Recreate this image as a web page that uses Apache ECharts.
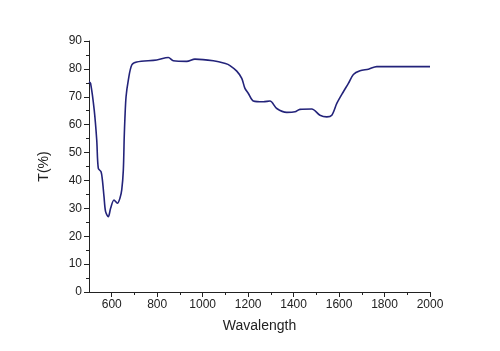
<!DOCTYPE html>
<html>
<head>
<meta charset="utf-8">
<script src="https://cdn.jsdelivr.net/npm/echarts@6/dist/echarts.min.js"></script>
<style>
  html, body { margin: 0; padding: 0; background: #fff; }
  #main { width: 500px; height: 351px; }
</style>
</head>
<body>
<div id="main"></div>
<script>
// wavelength (nm) and transmittance (%)
var wavelength = [500, 507, 523, 534, 541, 553, 559, 566, 573, 585, 595, 610, 625, 636, 644, 651, 655, 658, 663, 673, 688, 710, 798, 849, 871, 930, 966, 1047, 1100, 1120, 1150, 1172, 1186, 1201, 1223, 1267, 1296, 1326, 1370, 1406, 1428, 1480, 1516, 1546, 1568, 1590, 1619, 1641, 1663, 1692, 1729, 1766, 2000];
var transmittance = [75.4, 74.8, 65.2, 54.5, 44.3, 43.1, 40.1, 34.2, 28.8, 27.0, 30.0, 33.0, 31.8, 33.6, 36.6, 43.7, 55.7, 62.3, 70.0, 76.0, 81.4, 82.5, 83.2, 84.1, 82.9, 82.7, 83.5, 82.9, 81.9, 81.2, 79.2, 76.6, 73.0, 71.2, 68.5, 68.2, 68.5, 65.8, 64.4, 64.6, 65.5, 65.6, 63.4, 62.8, 63.4, 67.6, 71.8, 74.8, 78.0, 79.3, 79.9, 80.8, 80.8];

// tick positions on the wavelength axis
var xMajorTicks = [600, 800, 1000, 1200, 1400, 1600, 1800, 2000];
var xMinorTicks = [700, 900, 1100, 1300, 1500, 1700, 1900];

var points = wavelength.map(function (w, i) { return [w, transmittance[i]]; });

var myChart = echarts.init(document.getElementById('main'));
var font = 'Liberation Sans, Arial, sans-serif';
var ink = '#222';
var option = {
    animation: false,
    grid: { left: 89, right: 70, top: 41, bottom: 59 },
    xAxis: [
        {
            type: 'value',
            min: 500,
            max: 2000,
            interval: 100,
            name: 'Wavalength',
            nameLocation: 'middle',
            nameGap: 27,
            nameTextStyle: { color: ink, fontSize: 14, fontFamily: font },
            axisLine: { show: true, lineStyle: { color: ink, width: 1 } },
            axisTick: { show: true, length: 5, customValues: xMajorTicks, lineStyle: { color: ink } },
            axisLabel: {
                margin: 7, color: ink, fontSize: 12, fontFamily: font,
                customValues: xMajorTicks,
                formatter: function (v) { return String(v); }
            },
            splitLine: { show: false }
        },
        {
            type: 'value',
            position: 'bottom',
            min: 500,
            max: 2000,
            interval: 100,
            axisLine: { show: false },
            axisTick: { show: true, length: 3, customValues: xMinorTicks, lineStyle: { color: ink } },
            axisLabel: { show: false },
            splitLine: { show: false }
        }
    ],
    yAxis: {
        type: 'value',
        min: 0,
        max: 90,
        interval: 10,
        name: 'T(%)',
        nameLocation: 'middle',
        nameGap: 38,
        nameTextStyle: { color: ink, fontSize: 14, fontFamily: font },
        axisLine: { show: true, lineStyle: { color: ink, width: 1 } },
        axisTick: { show: true, length: 5, lineStyle: { color: ink } },
        minorTick: { show: true, splitNumber: 2, length: 3, lineStyle: { color: ink } },
        axisLabel: { margin: 7, color: ink, fontSize: 12, fontFamily: font },
        splitLine: { show: false }
    },
    series: [
        {
            type: 'line',
            data: points,
            smooth: 0.3,
            showSymbol: false,
            lineStyle: { color: '#23237a', width: 1.6 }
        }
    ]
};

myChart.setOption(option);
</script>
</body>
</html>
